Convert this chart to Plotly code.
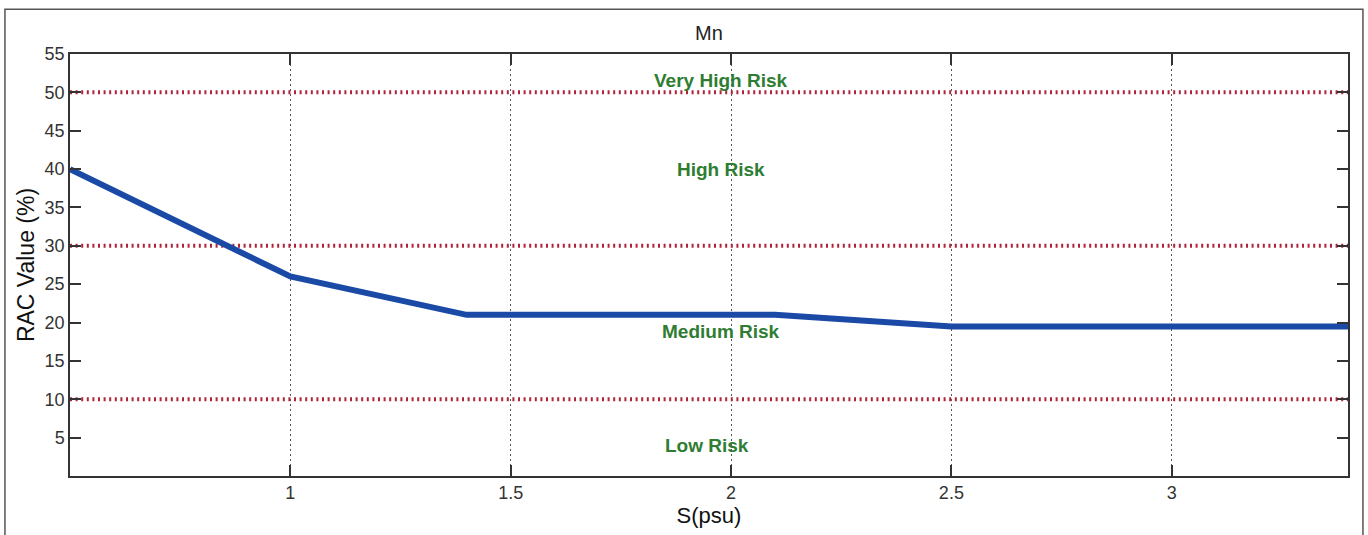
import plotly.graph_objects as go

# Data
s_psu = [0.5, 1.0, 1.4, 2.1, 2.5, 3.4]
rac_value = [40.0, 26.0, 21.0, 21.0, 19.5, 19.5]

risk_thresholds = [10, 30, 50]
risk_labels = ["Very High Risk", "High Risk", "Medium Risk", "Low Risk"]
risk_label_x = [1.976, 1.978, 1.978, 1.945]
risk_label_y = [51.5, 40.0, 18.8, 4.0]

x_ticks = [1, 1.5, 2, 2.5, 3]
y_ticks = [5, 10, 15, 20, 25, 30, 35, 40, 45, 50, 55]

FONT = "Liberation Sans, Arial, sans-serif"

fig = go.Figure()

# threshold lines
for t in risk_thresholds:
    fig.add_trace(go.Scatter(
        x=[0.5, 3.4], y=[t, t], mode="lines",
        line=dict(color="#b0243a", width=4, dash="2px,3.6px"),
        hoverinfo="skip", showlegend=False,
    ))

fig.add_trace(go.Scatter(
    x=s_psu, y=rac_value, mode="lines",
    line=dict(color="#1a4aa6", width=6),
    showlegend=False,
))

for lab, lx, ly in zip(risk_labels, risk_label_x, risk_label_y):
    fig.add_annotation(
        x=lx, y=ly, text="<b>" + lab + "</b>", showarrow=False,
        font=dict(family=FONT, size=19, color="#2e7d32"),
        xanchor="center", yanchor="middle",
    )

# outer frame
fig.add_shape(type="rect", xref="paper", yref="paper",
              x0=-0.0509, x1=1.0117, y0=-0.2, y1=1.106,
              line=dict(color="#555555", width=1.5), layer="below")

fig.update_layout(
    width=1368, height=535,
    margin=dict(l=70, r=20, t=54, b=57),
    paper_bgcolor="white", plot_bgcolor="white",
    font=dict(family=FONT, color="#222222"),
    title=dict(text="Mn", x=0.5, xref="paper", xanchor="center", y=1 - 33 / 535, yanchor="middle",
               font=dict(family=FONT, size=20, color="#222222")),
    xaxis=dict(
        range=[0.5, 3.4], tickvals=x_ticks, ticktext=["1", "1.5", "2", "2.5", "3"],
        showgrid=True, gridcolor="#555555", griddash="1.5px,3.5px", gridwidth=1.2,
        showline=True, linecolor="#333333", linewidth=1.5, mirror="ticks",
        ticks="inside", ticklen=11, tickcolor="#333333", tickwidth=1.5,
        tickfont=dict(family=FONT, size=18, color="#333333"),
        title=dict(text="S(psu)", font=dict(family=FONT, size=22, color="#111111"), standoff=4),
        zeroline=False,
    ),
    yaxis=dict(
        range=[0, 55], tickvals=y_ticks,
        showgrid=False,
        showline=True, linecolor="#333333", linewidth=1.5, mirror="ticks",
        ticks="inside", ticklen=11, tickcolor="#333333", tickwidth=1.5,
        tickfont=dict(family=FONT, size=18, color="#333333"),
        title=dict(text="RAC Value (%)", font=dict(family=FONT, size=23, color="#111111"), standoff=4),
        zeroline=False,
    ),
)

fig.write_html("out.html")
